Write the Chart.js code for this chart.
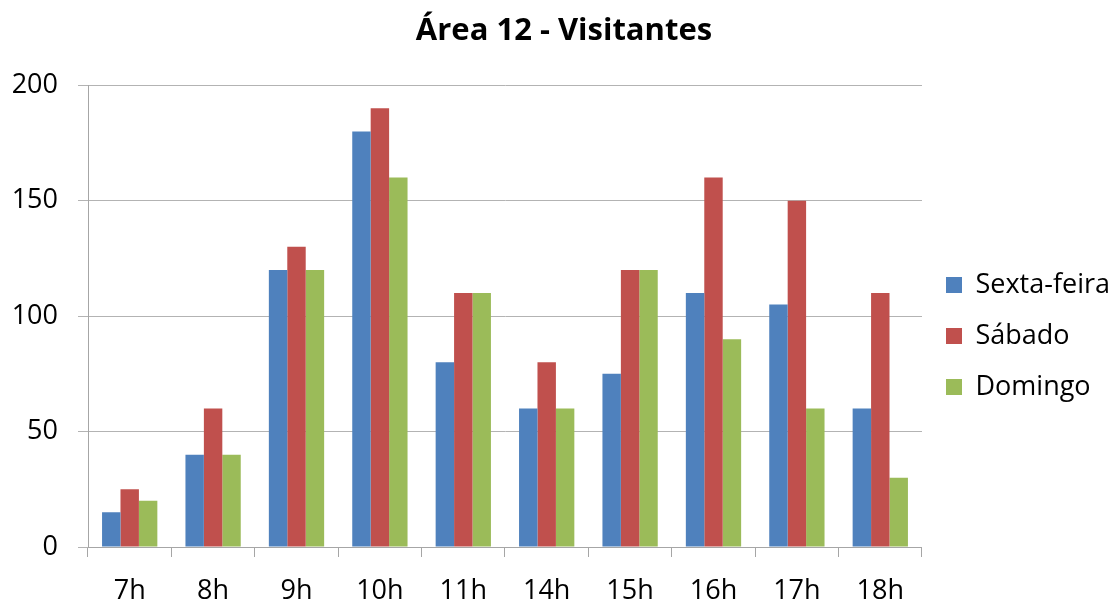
<!DOCTYPE html>
<html>
<head>
<meta charset="utf-8">
<script src="https://cdn.jsdelivr.net/npm/chart.js@4.4.1/dist/chart.umd.min.js"></script>
<style>
  html, body { margin: 0; padding: 0; background: #ffffff; }
  #wrap { width: 1120px; height: 601px; }
</style>
</head>
<body>
<div id="wrap"><canvas id="c" width="1120" height="601"></canvas></div>
<script>
// Visitor counts per hour for each day
const hours = ['7h', '8h', '9h', '10h', '11h', '14h', '15h', '16h', '17h', '18h'];
const sextaFeira = [15, 40, 120, 180, 80, 60, 75, 110, 105, 60];
const sabado = [25, 60, 130, 190, 110, 80, 120, 160, 150, 110];
const domingo = [20, 40, 120, 160, 110, 60, 120, 90, 60, 30];
const yTicks = [0, 50, 100, 150, 200];

const FONT = '"Open Sans", sans-serif';
const gridGrey = '#b3b3b3';
const axisGrey = '#a6a6a6';

new Chart(document.getElementById('c'), {
  type: 'bar',
  data: {
    labels: hours,
    datasets: [
      { label: 'Sexta-feira', data: sextaFeira, backgroundColor: '#4F81BD' },
      { label: 'Sábado', data: sabado, backgroundColor: '#C0504D' },
      { label: 'Domingo', data: domingo, backgroundColor: '#9BBB59' }
    ]
  },
  options: {
    responsive: false,
    animation: false,
    layout: { padding: { left: 8, right: 0, top: 0, bottom: 0 } },
    datasets: { bar: { categoryPercentage: 0.663, barPercentage: 1.0 } },
    plugins: {
      title: {
        display: true,
        text: 'Área 12 - Visitantes',
        color: '#000000',
        font: { family: FONT, size: 31, weight: 'bold', lineHeight: 1.2 },
        padding: { top: 13, bottom: 35 }
      },
      legend: {
        position: 'right',
        align: 'center',
        // empty legend title only reserves space above the entries
        title: { display: true, text: '', font: { size: 21, lineHeight: 1 }, padding: 25 },
        labels: {
          color: '#000000',
          font: { family: FONT, size: 27 },
          boxWidth: 16,
          boxHeight: 16,
          padding: 24
        }
      },
      tooltip: { enabled: false }
    },
    scales: {
      x: {
        grid: {
          display: true,
          drawOnChartArea: false,
          drawTicks: true,
          tickLength: 10,
          color: axisGrey,
          offset: true
        },
        border: { color: axisGrey, width: 1 },
        ticks: { color: '#000000', font: { family: FONT, size: 27 }, padding: 18 },
        afterFit: (s) => { s.height = 54; }
      },
      y: {
        min: 0,
        max: 200,
        afterBuildTicks: (s) => { s.ticks = yTicks.map(v => ({ value: v })); },
        grid: {
          color: gridGrey,
          drawTicks: true,
          tickLength: 10
        },
        border: { color: axisGrey, width: 1 },
        ticks: { color: '#000000', font: { family: FONT, size: 27 }, padding: 20 },
        afterFit: (s) => { s.width = 80; }
      }
    }
  }
});
</script>
</body>
</html>
